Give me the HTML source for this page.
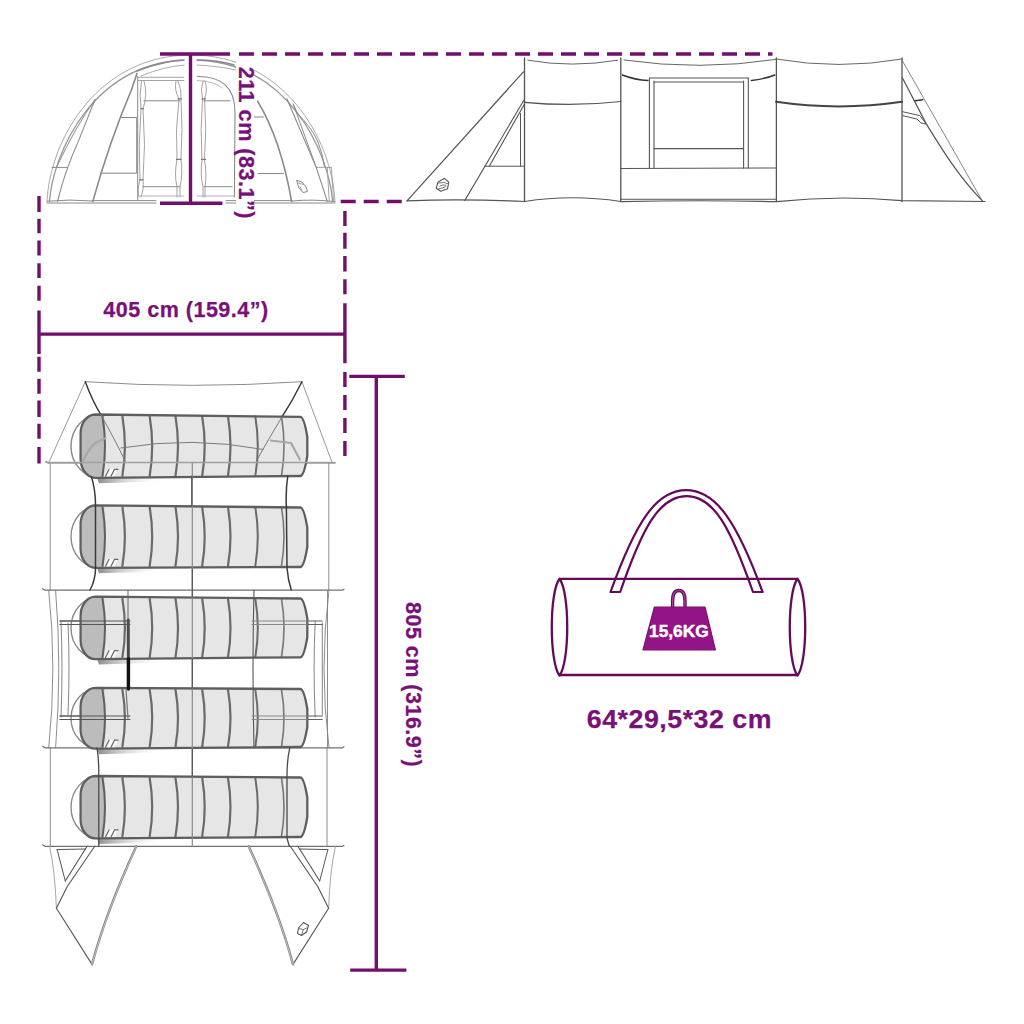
<!DOCTYPE html>
<html><head><meta charset="utf-8">
<style>
html,body{margin:0;padding:0;background:#fff;}
body{width:1024px;height:1024px;overflow:hidden;}
svg{display:block;}
text{font-family:"Liberation Sans",sans-serif;font-weight:bold;}
</style></head>
<body>
<svg width="1024" height="1024" viewBox="0 0 1024 1024">
<rect width="1024" height="1024" fill="#fff"/>
<g fill="none" stroke-linecap="round" stroke-linejoin="round"><path d="M47,201.4 C50.2,137.2 99.6,55 191,55 C282.4,55 331.8,137.2 335,201.4" stroke="#a0a0a0" stroke-width="0.9"/>
<path d="M49.4,201.4 C53.1,154.6 92.2,60 191,60 C289.8,60 328.9,154.6 332.6,201.4" stroke="#999" stroke-width="1.3"/>
<path d="M137,71 Q165,60 186,60" stroke="#8a8a8a" stroke-width="1.6"/>
<path d="M196,60 Q218,60 234,65" stroke="#8a8a8a" stroke-width="1.6"/>
<path d="M141,76 Q165,66 186,65" stroke="#a0a0a0" stroke-width="0.9"/>
<path d="M196,65 Q220,66 240,71" stroke="#a0a0a0" stroke-width="0.9"/>
<path d="M57,166.2 Q76,126 95.1,99.4" stroke="#8a8a8a" stroke-width="1"/>
<path d="M57.6,201.4 C62,182 70,160 78.7,140.4 L95.1,99.4" stroke="#8a8a8a" stroke-width="1.1"/>
<path d="M52,167.4 L67,167.4" stroke="#8a8a8a" stroke-width="1"/>
<path d="M92.8,201.4 Q110,140 131.4,90 L137,73.4" stroke="#888" stroke-width="1.6"/>
<path d="M120.9,117.5 L136.7,117.5 L136.7,173.2 L101,173.2" stroke="#888" stroke-width="1"/>
<path d="M137.7,76.5 L137.7,200" stroke="#8a8a8a" stroke-width="1"/>
<path d="M137.7,77.3 L184,77.3 M137.7,80.5 L184,80.5" stroke="#9a9a9a" stroke-width="0.9"/>
<path d="M141.5,81 Q139,95 141,108.7 Q138,145 140,179.8 Q137,190 139,197 M144,81 Q148,95 143,108.7 Q146,145 143,179.8 Q144,190 141,197" stroke="#999" stroke-width="0.9"/>
<path d="M141,108.7 L143.5,108.7 M139.5,179.8 L143,179.8" stroke="#777" stroke-width="1.3"/>
<path d="M176,81 Q174,90 179,98.9 Q175,130 177,159.4 Q174,175 177,186.6 L177,197 M178,81 Q182,90 181,98.9 Q183,130 181,159.4 Q183,175 180,186.6 L180,197" stroke="#999" stroke-width="0.9"/>
<path d="M178,98.9 L181.5,98.9 M176.5,159.4 L181,159.4" stroke="#777" stroke-width="1.3"/>
<path d="M144,100.8 L180,100.8 M143,186.7 L180,186.7" stroke="#8a8a8a" stroke-width="1"/>
<path d="M140,196 L184,196" stroke="#aaa" stroke-width="0.9"/>
<path d="M47,201.2 Q70,199 93,201 M93,200.6 L156,200.6 M47,203 L156,203" stroke="#8a8a8a" stroke-width="1"/>
<path d="M226,200.6 L292,200.6 M292,201 Q312,199 335,201.6 M226,203 L335,203" stroke="#8a8a8a" stroke-width="1"/>
<path d="M197,76.5 Q235,76 235,112 L234.4,197" stroke="#8a8a8a" stroke-width="1.1"/>
<path d="M197,80.5 Q215,81 222,88" stroke="#aaa" stroke-width="0.8"/>
<path d="M203,81 Q200,90 202.5,98.9 Q200,130 202,159.4 Q200,175 203,186.6 L203,197 M205,81 Q208,90 204.5,98.9 Q207,130 204.5,159.4 Q207,175 205,186.6 L205,197" stroke="#999" stroke-width="0.9"/>
<path d="M202,98.9 L205.5,98.9 M201.5,159.4 L205.5,159.4" stroke="#777" stroke-width="1.3"/>
<path d="M204,100.8 L230,100.8 M204,186.7 L232,186.7" stroke="#8a8a8a" stroke-width="1"/>
<path d="M197,196 L234,196" stroke="#aaa" stroke-width="0.9"/>
<path d="M257.6,101.1 Q281,140 291.6,201.4" stroke="#888" stroke-width="1.6"/>
<path d="M253.5,117 L263.4,117 M258.2,173.5 L283.4,173.5" stroke="#888" stroke-width="1"/>
<path d="M286.9,98.8 L316.2,167.4 L327.3,201.4" stroke="#8a8a8a" stroke-width="1.1"/>
<path d="M293.3,104.1 L316.2,167.4" stroke="#8a8a8a" stroke-width="1"/>
<path d="M293.3,104.1 L297.4,113.4 Q312,128 318,142 Q323,155 324.4,166.2" stroke="#8a8a8a" stroke-width="1"/>
<path d="M316.2,167.4 L331.4,167.4 M327.3,167.4 L329.2,201.4 M331.4,167.4 L333.6,201.4" stroke="#9a9a9a" stroke-width="0.9"/>
<path d="M297,180.5 L302,182 L306,187 L307.5,191.5 L303,192.5 L299,188 Z" stroke="#888" stroke-width="1"/>
<path d="M298,183 L303.5,184.5 M300,186.5 L302,191" stroke="#999" stroke-width="0.9"/></g>
<g fill="none" stroke-linecap="round" stroke-linejoin="round"><path d="M407,200.8 L523.4,71.9" stroke="#555" stroke-width="1.2"/>
<path d="M464.7,200.6 L524,100 M489.3,166.2 L524.5,104" stroke="#555" stroke-width="1.1"/>
<path d="M520.5,113.4 L520.5,166.2 M484.5,166.2 L524.5,166.2" stroke="#555" stroke-width="1"/>
<path d="M524.5,58 L524.5,201.6" stroke="#555" stroke-width="1.3"/>
<path d="M620.8,58 L620.8,201.6" stroke="#555" stroke-width="1.3"/>
<path d="M776.4,58 L776.4,201.6" stroke="#555" stroke-width="1.3"/>
<path d="M902,58 L902,201.6" stroke="#555" stroke-width="1.3"/>
<path d="M527.8,60.2 Q572,68 617.7,60.2 M624,60 Q700,71 776,59.4 M776,59 Q839,70 902,59" stroke="#666" stroke-width="1"/>
<path d="M524.4,102.3 Q572,107 620.8,101.5" stroke="#555" stroke-width="1.2"/>
<path d="M776,101.8 Q839,111 902,101.8" stroke="#444" stroke-width="2"/>
<path d="M407,200.8 Q463,198.5 524.5,201.5 Q572,194 620.8,201.5" stroke="#555" stroke-width="1.2"/>
<path d="M620.8,199.2 L776.4,199.2 M620.8,201.6 Q700,200 776.4,201.6 Q839,195 902,200.6 L985,201.5" stroke="#555" stroke-width="1.1"/>
<path d="M622.3,75 Q635,80 648,80.5 M751.4,80.5 Q765,79 774.8,75" stroke="#333" stroke-width="1.4"/>
<path d="M649.4,78 L649.4,168 M654,81 L654,168 M743.6,81 L743.6,168 M748.3,78 L748.3,168" stroke="#555" stroke-width="1.1"/>
<path d="M649.4,78 L748.3,78 M654,82 L743.6,82" stroke="#555" stroke-width="1"/>
<path d="M654,148.6 L743.6,148.6" stroke="#555" stroke-width="1.1"/>
<path d="M620.8,168.5 L776.4,168" stroke="#555" stroke-width="1.1"/>
<path d="M902,60.2 L982.2,200.8" stroke="#777" stroke-width="0.9"/>
<path d="M902.5,78 L926,123.4 C940,146 958,176 982.2,200.6" stroke="#555" stroke-width="1.2"/>
<path d="M915,100.8 L922.8,99.7" stroke="#333" stroke-width="1.5"/>
<path d="M902.5,111.7 L919.7,115.6 L926,123.4 M902.5,115.6 L917,119 L921,123 L926,124" stroke="#555" stroke-width="1"/>
<path d="M444.5,178.3 L448.8,182.2 L447.5,188.8 L440.7,191.3 L436.3,188.2 L437.9,182.2 Z" stroke="#555" stroke-width="1.1"/>
<path d="M438.5,183 Q444,181.5 448,183.5 M440,186 Q443,184.5 445.5,185 M438.5,189 Q443,188 446,186.5" stroke="#666" stroke-width="0.9"/></g>
<defs><linearGradient id="shd" x1="0" x2="1" y1="0" y2="0"><stop offset="0" stop-color="#8a8a8a"/><stop offset="1" stop-color="#fff" stop-opacity="0"/></linearGradient></defs>
<g fill="none" stroke-linecap="round" stroke-linejoin="round"><path d="M85.3,381.7 Q192,389 301.9,381.7" stroke="#8c8c8c" stroke-width="1"/>
<path d="M85.3,381.7 L48.6,463 M301.9,381.7 L332.3,463" stroke="#8c8c8c" stroke-width="0.9"/>
<path d="M46,461.5 L48.6,463 L335,463" stroke="#777" stroke-width="1.1"/>
<path d="M42.5,588.7 L45,590.2 L342.5,590.2 L344,589.2" stroke="#707070" stroke-width="1.2"/>
<path d="M42.5,746.3 L45,747.8 L342.5,747.8 L344,746.8" stroke="#707070" stroke-width="1.2"/>
<path d="M42.5,844.8 L45,846.3 L342.5,846.3 L344,845.3" stroke="#707070" stroke-width="1.2"/>
<path d="M50.2,463 L50.2,590 M328.8,463 L328.8,590 M50.3,747.8 L50.3,846.3 M327,747.8 L327,846.3" stroke="#808080" stroke-width="0.9"/>
<path d="M48.75,590.2 Q57,668 48.75,747.8 M55.6,590.2 Q62,668 55.6,747.8" stroke="#808080" stroke-width="0.9"/>
<path d="M327.5,590.2 L327.5,747.8 M329,590.2 Q319,668 329,747.8" stroke="#808080" stroke-width="0.9"/>
<path d="M61,621 Q63,668 61,717 M68,623 Q70,668 68,715" stroke="#777" stroke-width="0.9"/>
<path d="M315.2,621 Q313,668 315.2,717 M322.3,623 L322.3,715" stroke="#777" stroke-width="0.9"/>
<path d="M60,621 L130,621 M60,624.5 L130,624.5 M60,716 L130,716 M60,719.5 L130,719.5" stroke="#606060" stroke-width="1"/>
<path d="M252,621 L322.3,621 M252,624.5 L322.3,624.5 M252,716 L322.3,716 M252,719.5 L322.3,719.5" stroke="#606060" stroke-width="1"/>
<path d="M85.3,381.7 Q92,400 101,415" stroke="#333" stroke-width="1.4"/>
<path d="M301.9,381.7 Q293,400 281.6,417.5" stroke="#333" stroke-width="1.4"/>
<path d="M97,477.8 L165,477.8 L165,481.3 L99,483.3 Z" fill="url(#shd)" stroke="none"/>
<path d="M99,414.8 A28,31.350000000000005 0 0 0 71,446.15 A28,31.350000000000005 0 0 0 99,477.5" fill="none" stroke="#8a8a8a" stroke-width="1.4"/>
<path d="M95.5,414.5 L300.3,416.9 Q304,416.9 307.3,436.9 L307.3,456 Q304,476 300.3,476 L95.5,477.8 C86,477.8 80.6,467.8 80.6,458.8 L80.6,433.5 C80.6,424.5 86,414.5 95.5,414.5 Z" fill="#e6e6e6" stroke="none"/>
<path d="M95.5,415.5 L104,415.5 Q107.5,446.15 103.5,476.8 L95.5,476.8 C86,476.8 81.6,467.8 81.6,458.8 L81.6,433.5 C81.6,424.5 86,415.5 95.5,415.5 Z" fill="#bcbcbc" stroke="none"/>
<path d="M102.5,416.5 Q107.5,446.15 102.5,475.8" fill="none" stroke="#606060" stroke-width="2.0"/>
<path d="M122.4,416.5 Q127.4,446.15 122.4,475.8" fill="none" stroke="#6a6a6a" stroke-width="2.2"/>
<path d="M149.7,416.5 Q154.7,446.15 149.7,475.8" fill="none" stroke="#6a6a6a" stroke-width="2.2"/>
<path d="M175.5,416.5 Q180.5,446.15 175.5,475.8" fill="none" stroke="#6a6a6a" stroke-width="2.2"/>
<path d="M202.2,416.5 Q207.2,446.15 202.2,475.8" fill="none" stroke="#6a6a6a" stroke-width="2.2"/>
<path d="M228,416.5 Q233,446.15 228,475.8" fill="none" stroke="#6a6a6a" stroke-width="2.2"/>
<path d="M255.3,416.5 Q260.3,446.15 255.3,475.8" fill="none" stroke="#6a6a6a" stroke-width="2.0"/>
<path d="M281.5,416.5 Q286.5,446.15 281.5,475.8" fill="none" stroke="#777" stroke-width="1.6"/>
<path d="M95.5,414.5 L300.3,416.9 Q304,416.9 307.3,436.9 L307.3,456 Q304,476 300.3,476 L95.5,477.8 C86,477.8 80.6,467.8 80.6,458.8 L80.6,433.5 C80.6,424.5 86,414.5 95.5,414.5 Z" fill="none" stroke="#5e5e5e" stroke-width="2.3"/>
<path d="M104,476.3 L107.5,468.8 L118,468.8 L114.5,476.3 Z" fill="#fafafa" stroke="none"/>
<path d="M105.5,476.3 L109,469.3 M111,476.3 L114.5,469.3 M114.5,469.3 L118,469.3" stroke="#666" stroke-width="1.2"/>
<path d="M97,567.8 L165,567.8 L165,571.3 L99,573.3 Z" fill="url(#shd)" stroke="none"/>
<path d="M99,505.6 A28,30.94999999999997 0 0 0 71,536.55 A28,30.94999999999997 0 0 0 99,567.5" fill="none" stroke="#8a8a8a" stroke-width="1.4"/>
<path d="M95.5,505.3 L300.3,507.5 Q304,507.5 307.3,527.5 L307.3,547 Q304,567 300.3,567 L95.5,567.8 C86,567.8 80.6,557.8 80.6,548.8 L80.6,524.3 C80.6,515.3 86,505.3 95.5,505.3 Z" fill="#e6e6e6" stroke="none"/>
<path d="M95.5,506.3 L104,506.3 Q107.5,536.55 103.5,566.8 L95.5,566.8 C86,566.8 81.6,557.8 81.6,548.8 L81.6,524.3 C81.6,515.3 86,506.3 95.5,506.3 Z" fill="#bcbcbc" stroke="none"/>
<path d="M102.5,507.3 Q107.5,536.55 102.5,565.8" fill="none" stroke="#606060" stroke-width="2.0"/>
<path d="M122.4,507.3 Q127.4,536.55 122.4,565.8" fill="none" stroke="#6a6a6a" stroke-width="2.2"/>
<path d="M149.7,507.3 Q154.7,536.55 149.7,565.8" fill="none" stroke="#6a6a6a" stroke-width="2.2"/>
<path d="M175.5,507.3 Q180.5,536.55 175.5,565.8" fill="none" stroke="#6a6a6a" stroke-width="2.2"/>
<path d="M202.2,507.3 Q207.2,536.55 202.2,565.8" fill="none" stroke="#6a6a6a" stroke-width="2.2"/>
<path d="M228,507.3 Q233,536.55 228,565.8" fill="none" stroke="#6a6a6a" stroke-width="2.2"/>
<path d="M255.3,507.3 Q260.3,536.55 255.3,565.8" fill="none" stroke="#6a6a6a" stroke-width="2.0"/>
<path d="M281.5,507.3 Q286.5,536.55 281.5,565.8" fill="none" stroke="#777" stroke-width="1.6"/>
<path d="M95.5,505.3 L300.3,507.5 Q304,507.5 307.3,527.5 L307.3,547 Q304,567 300.3,567 L95.5,567.8 C86,567.8 80.6,557.8 80.6,548.8 L80.6,524.3 C80.6,515.3 86,505.3 95.5,505.3 Z" fill="none" stroke="#5e5e5e" stroke-width="2.3"/>
<path d="M104,566.3 L107.5,558.8 L118,558.8 L114.5,566.3 Z" fill="#fafafa" stroke="none"/>
<path d="M105.5,566.3 L109,559.3 M111,566.3 L114.5,559.3 M114.5,559.3 L118,559.3" stroke="#666" stroke-width="1.2"/>
<path d="M97,659.1 L165,659.1 L165,662.6 L99,664.6 Z" fill="url(#shd)" stroke="none"/>
<path d="M99,597.0 A28,30.899999999999988 0 0 0 71,627.9000000000001 A28,30.899999999999988 0 0 0 99,658.8000000000001" fill="none" stroke="#8a8a8a" stroke-width="1.4"/>
<path d="M95.5,596.7 L300.3,598.5 Q304,598.5 307.3,618.5 L307.3,637.3 Q304,657.3 300.3,657.3 L95.5,659.1 C86,659.1 80.6,649.1 80.6,640.1 L80.6,615.7 C80.6,606.7 86,596.7 95.5,596.7 Z" fill="#e6e6e6" stroke="none"/>
<path d="M95.5,597.7 L104,597.7 Q107.5,627.9000000000001 103.5,658.1 L95.5,658.1 C86,658.1 81.6,649.1 81.6,640.1 L81.6,615.7 C81.6,606.7 86,597.7 95.5,597.7 Z" fill="#bcbcbc" stroke="none"/>
<path d="M102.5,598.7 Q107.5,627.9000000000001 102.5,657.1" fill="none" stroke="#606060" stroke-width="2.0"/>
<path d="M122.4,598.7 Q127.4,627.9000000000001 122.4,657.1" fill="none" stroke="#6a6a6a" stroke-width="2.2"/>
<path d="M149.7,598.7 Q154.7,627.9000000000001 149.7,657.1" fill="none" stroke="#6a6a6a" stroke-width="2.2"/>
<path d="M175.5,598.7 Q180.5,627.9000000000001 175.5,657.1" fill="none" stroke="#6a6a6a" stroke-width="2.2"/>
<path d="M202.2,598.7 Q207.2,627.9000000000001 202.2,657.1" fill="none" stroke="#6a6a6a" stroke-width="2.2"/>
<path d="M228,598.7 Q233,627.9000000000001 228,657.1" fill="none" stroke="#6a6a6a" stroke-width="2.2"/>
<path d="M255.3,598.7 Q260.3,627.9000000000001 255.3,657.1" fill="none" stroke="#6a6a6a" stroke-width="2.0"/>
<path d="M281.5,598.7 Q286.5,627.9000000000001 281.5,657.1" fill="none" stroke="#777" stroke-width="1.6"/>
<path d="M95.5,596.7 L300.3,598.5 Q304,598.5 307.3,618.5 L307.3,637.3 Q304,657.3 300.3,657.3 L95.5,659.1 C86,659.1 80.6,649.1 80.6,640.1 L80.6,615.7 C80.6,606.7 86,596.7 95.5,596.7 Z" fill="none" stroke="#5e5e5e" stroke-width="2.3"/>
<path d="M104,657.6 L107.5,650.1 L118,650.1 L114.5,657.6 Z" fill="#fafafa" stroke="none"/>
<path d="M105.5,657.6 L109,650.6 M111,657.6 L114.5,650.6 M114.5,650.6 L118,650.6" stroke="#666" stroke-width="1.2"/>
<path d="M97,748.7 L165,748.7 L165,752.2 L99,754.2 Z" fill="url(#shd)" stroke="none"/>
<path d="M99,688.0999999999999 A28,30.150000000000045 0 0 0 71,718.25 A28,30.150000000000045 0 0 0 99,748.4000000000001" fill="none" stroke="#8a8a8a" stroke-width="1.4"/>
<path d="M95.5,687.8 L300.3,689 Q304,689 307.3,709 L307.3,727 Q304,747 300.3,747 L95.5,748.7 C86,748.7 80.6,738.7 80.6,729.7 L80.6,706.8 C80.6,697.8 86,687.8 95.5,687.8 Z" fill="#e6e6e6" stroke="none"/>
<path d="M95.5,688.8 L104,688.8 Q107.5,718.25 103.5,747.7 L95.5,747.7 C86,747.7 81.6,738.7 81.6,729.7 L81.6,706.8 C81.6,697.8 86,688.8 95.5,688.8 Z" fill="#bcbcbc" stroke="none"/>
<path d="M102.5,689.8 Q107.5,718.25 102.5,746.7" fill="none" stroke="#606060" stroke-width="2.0"/>
<path d="M122.4,689.8 Q127.4,718.25 122.4,746.7" fill="none" stroke="#6a6a6a" stroke-width="2.2"/>
<path d="M149.7,689.8 Q154.7,718.25 149.7,746.7" fill="none" stroke="#6a6a6a" stroke-width="2.2"/>
<path d="M175.5,689.8 Q180.5,718.25 175.5,746.7" fill="none" stroke="#6a6a6a" stroke-width="2.2"/>
<path d="M202.2,689.8 Q207.2,718.25 202.2,746.7" fill="none" stroke="#6a6a6a" stroke-width="2.2"/>
<path d="M228,689.8 Q233,718.25 228,746.7" fill="none" stroke="#6a6a6a" stroke-width="2.2"/>
<path d="M255.3,689.8 Q260.3,718.25 255.3,746.7" fill="none" stroke="#6a6a6a" stroke-width="2.0"/>
<path d="M281.5,689.8 Q286.5,718.25 281.5,746.7" fill="none" stroke="#777" stroke-width="1.6"/>
<path d="M95.5,687.8 L300.3,689 Q304,689 307.3,709 L307.3,727 Q304,747 300.3,747 L95.5,748.7 C86,748.7 80.6,738.7 80.6,729.7 L80.6,706.8 C80.6,697.8 86,687.8 95.5,687.8 Z" fill="none" stroke="#5e5e5e" stroke-width="2.3"/>
<path d="M104,747.2 L107.5,739.7 L118,739.7 L114.5,747.2 Z" fill="#fafafa" stroke="none"/>
<path d="M105.5,747.2 L109,740.2 M111,747.2 L114.5,740.2 M114.5,740.2 L118,740.2" stroke="#666" stroke-width="1.2"/>
<path d="M97,838.4 L165,838.4 L165,841.9 L99,843.9 Z" fill="url(#shd)" stroke="none"/>
<path d="M99,776.3 A28,30.899999999999988 0 0 0 71,807.2 A28,30.899999999999988 0 0 0 99,838.1" fill="none" stroke="#8a8a8a" stroke-width="1.4"/>
<path d="M95.5,776 L300.3,777.5 Q304,777.5 307.3,797.5 L307.3,817 Q304,837 300.3,837 L95.5,838.4 C86,838.4 80.6,828.4 80.6,819.4 L80.6,795 C80.6,786 86,776 95.5,776 Z" fill="#e6e6e6" stroke="none"/>
<path d="M95.5,777 L104,777 Q107.5,807.2 103.5,837.4 L95.5,837.4 C86,837.4 81.6,828.4 81.6,819.4 L81.6,795 C81.6,786 86,777 95.5,777 Z" fill="#bcbcbc" stroke="none"/>
<path d="M102.5,778 Q107.5,807.2 102.5,836.4" fill="none" stroke="#606060" stroke-width="2.0"/>
<path d="M122.4,778 Q127.4,807.2 122.4,836.4" fill="none" stroke="#6a6a6a" stroke-width="2.2"/>
<path d="M149.7,778 Q154.7,807.2 149.7,836.4" fill="none" stroke="#6a6a6a" stroke-width="2.2"/>
<path d="M175.5,778 Q180.5,807.2 175.5,836.4" fill="none" stroke="#6a6a6a" stroke-width="2.2"/>
<path d="M202.2,778 Q207.2,807.2 202.2,836.4" fill="none" stroke="#6a6a6a" stroke-width="2.2"/>
<path d="M228,778 Q233,807.2 228,836.4" fill="none" stroke="#6a6a6a" stroke-width="2.2"/>
<path d="M255.3,778 Q260.3,807.2 255.3,836.4" fill="none" stroke="#6a6a6a" stroke-width="2.0"/>
<path d="M281.5,778 Q286.5,807.2 281.5,836.4" fill="none" stroke="#777" stroke-width="1.6"/>
<path d="M95.5,776 L300.3,777.5 Q304,777.5 307.3,797.5 L307.3,817 Q304,837 300.3,837 L95.5,838.4 C86,838.4 80.6,828.4 80.6,819.4 L80.6,795 C80.6,786 86,776 95.5,776 Z" fill="none" stroke="#5e5e5e" stroke-width="2.3"/>
<path d="M104,836.9 L107.5,829.4 L118,829.4 L114.5,836.9 Z" fill="#fafafa" stroke="none"/>
<path d="M105.5,836.9 L109,829.9 M111,836.9 L114.5,829.9 M114.5,829.9 L118,829.9" stroke="#666" stroke-width="1.2"/>
<path d="M101,415 Q115,440 125,460.6" stroke="#7a7a7a" stroke-width="1"/>
<path d="M281.6,417.5 Q268,440 256.6,460.6" stroke="#7a7a7a" stroke-width="1"/>
<path d="M120.8,448 Q192,436 263,449.4" stroke="#7a7a7a" stroke-width="1"/>
<path d="M82.7,461 Q90,447 95.4,443 L105.5,438" stroke="#a8a8a8" stroke-width="2.2"/>
<path d="M270.6,440.5 L291,443 L299.8,459.6" stroke="#a8a8a8" stroke-width="2.2"/>
<path d="M46,462.5 L335,462.5" stroke="#a0a0a0" stroke-width="1.6"/>
<path d="M192.3,463 L192.3,846.3" stroke="#8a8a8a" stroke-width="1.2"/>
<path d="M191.7,476 L191.7,506 M192.3,569 L192.3,597 M192.3,659 L192.3,688 M192.3,749 L192.3,776" stroke="#555" stroke-width="1.2"/>
<path d="M91.5,477 Q95.5,490 95.5,505 L95.5,568 Q95.5,580 90,590" stroke="#3a3a3a" stroke-width="1.5"/>
<path d="M287.8,476 Q285.5,490 286.4,507.8 L287,568 Q288,580 291.2,589.8" stroke="#3a3a3a" stroke-width="1.5"/>
<path d="M128,590 L128,620" stroke="#666" stroke-width="1"/>
<path d="M128.2,620 L128.4,659" stroke="#4a4a4a" stroke-width="3"/>
<path d="M128.4,659 L128.4,689" stroke="#111" stroke-width="3.4"/>
<path d="M126,689 L128,718" stroke="#777" stroke-width="1.2"/>
<path d="M254,590 Q252,668 254,747.8" stroke="#555" stroke-width="1.1"/>
<path d="M60,621 L130,621 M60,624.5 L130,624.5 M60,716 L130,716 M60,719.5 L130,719.5" stroke="#555" stroke-width="1"/>
<path d="M130,621 L252,621 M130,624.5 L252,624.5 M130,716 L252,716 M130,719.5 L252,719.5" stroke="#9a9a9a" stroke-width="0.9" opacity="0"/>
<path d="M252,621 L307,621 M252,624.5 L307,624.5 M252,716 L307,716 M252,719.5 L307,719.5" stroke="#8a8a8a" stroke-width="1"/>
<path d="M97,747.8 Q99,760 98.75,776 L98.75,838 Q99,842 98.75,846.3" stroke="#4a4a4a" stroke-width="1.3"/>
<path d="M289.75,747.8 Q287,760 287,776 L287,838 Q288,842 289.4,846.3" stroke="#4a4a4a" stroke-width="1.3"/>
<g><path d="M49.6,846.5 Q55,870 56.4,908.3" stroke="#9a9a9a" stroke-width="0.9"/><path d="M56.4,908.3 L92,964.4" stroke="#555" stroke-width="1.1"/><path d="M92,964.4 Q106,912 136.3,846.3" stroke="#858585" stroke-width="2.4"/><path d="M92,964.4 Q106,912 136.3,846.3" stroke="#e8e8e8" stroke-width="0.6"/><path d="M56.4,908.3 L67.3,886.5 L94.7,846.3 M65.3,881 L87.1,846.3" stroke="#555" stroke-width="1.1"/><path d="M57.1,849.6 L65.3,881 M57.1,849.6 L85.5,849" stroke="#555" stroke-width="1"/></g>
<g transform="matrix(-1,0,0,1,385,0)"><path d="M49.6,846.5 Q55,870 56.4,908.3" stroke="#9a9a9a" stroke-width="0.9"/><path d="M56.4,908.3 L92,964.4" stroke="#555" stroke-width="1.1"/><path d="M92,964.4 Q106,912 136.3,846.3" stroke="#858585" stroke-width="2.4"/><path d="M92,964.4 Q106,912 136.3,846.3" stroke="#e8e8e8" stroke-width="0.6"/><path d="M56.4,908.3 L67.3,886.5 L94.7,846.3 M65.3,881 L87.1,846.3" stroke="#555" stroke-width="1.1"/><path d="M57.1,849.6 L65.3,881 M57.1,849.6 L85.5,849" stroke="#555" stroke-width="1"/></g>
<path d="M303.5,922.5 L308.5,925.5 L306.5,932 L301.5,935.5 L297.5,933.5 L298.5,928 Z" stroke="#555" stroke-width="1.1" fill="none"/>
<path d="M298.5,928.5 L303.5,929.5 L306.5,928 M303.5,929.5 L301.5,935" stroke="#666" stroke-width="0.9" fill="none"/></g>

<g fill="#fff">
  <rect x="184.5" y="57" width="12" height="144"/>
  <rect x="236.2" y="62" width="17.8" height="162"/>
  <rect x="157" y="198" width="68" height="10"/>
</g>
<g stroke="#730e6c" stroke-width="3.4" fill="none">
  <line x1="160" y1="54" x2="230" y2="54"/>
  <line x1="239" y1="54" x2="772.5" y2="54" stroke-dasharray="15 8"/>
  <line x1="190.5" y1="54" x2="190.5" y2="203.3"/>
  <line x1="160" y1="203.3" x2="222.4" y2="203.3"/>
  <line x1="340.7" y1="201.5" x2="402" y2="201.5" stroke-dasharray="15 8"/>
  <path d="M39 196V211.9M39 218.7V233.2M39 240.6V255.6M39 263.3V278M39 285.7V300.7M39 310.5V354M39 356.8V371.8M39 378.7V393.7M39 400.6V417M39 423.8V438.8M39 447V463.4"/>
  <path d="M344.9 211V226M344.9 232.8V248.7M344.9 256V271.6M344.9 279.3V294.3M344.9 303.2V363.2M344.9 372V387M344.9 395V410M344.9 418V433M344.9 441V456"/>
  <line x1="39" y1="334.1" x2="344.9" y2="334.1"/>
  <line x1="349.3" y1="376.4" x2="404.8" y2="376.4"/>
  <line x1="376.3" y1="376.4" x2="376.3" y2="970.1"/>
  <line x1="350.2" y1="970.1" x2="406.4" y2="970.1"/>
</g>
<g fill="#78107a" stroke="#78107a" stroke-width="0.25">
  <text x="103.3" y="317.2" font-size="21.5" letter-spacing="0.5" textLength="165.4" lengthAdjust="spacingAndGlyphs">405 cm (159.4”)</text>
  <text transform="translate(238.6,66.8) rotate(90)" font-size="21.5" letter-spacing="0.5" textLength="152.2" lengthAdjust="spacingAndGlyphs">211 cm (83.1”)</text>
  <text transform="translate(406.2,602) rotate(90)" font-size="21.5" letter-spacing="0.5" textLength="165.2" lengthAdjust="spacingAndGlyphs">805 cm (316.9”)</text>
  <text x="586.8" y="727.8" font-size="26.3" letter-spacing="0.5" textLength="185.2" lengthAdjust="spacingAndGlyphs">64*29,5*32 cm</text>
</g>


<g fill="none" stroke="#650a5a" stroke-width="2.3" stroke-linejoin="round">
  <path d="M559.5,578.8 L797.5,578.8 M559.5,675 L797.5,675"/>
  <path d="M559.5,578.8 C549.2,592 549.2,662 559.5,675.5 C569.8,662 569.8,592 559.5,578.8 Z"/>
  <path d="M797.5,578.8 C787.2,592 787.2,662 797.5,675.5 C807.8,662 807.8,592 797.5,578.8 Z"/>
  <path d="M610.5,592 C635.5,522.5 656,490.2 686.1,490.2 C716.2,490.2 737.2,522.5 762.6,592 L753,592 C730.5,528.1 714.2,496.2 686.6,496.2 C659,496.2 642.3,528.1 620.2,592 Z" stroke-width="2.2"/>
</g>
<g>
  <path d="M672.6,607 L672.6,601 Q672.6,590.5 678.8,590.5 Q685,590.5 685,601 L685,607" fill="none" stroke="#650a5a" stroke-width="3.4"/>
  <path d="M672.6,607 L672.6,601 Q672.6,590.5 678.8,590.5 Q685,590.5 685,601 L685,607" fill="none" stroke="#b24aaa" stroke-width="1.1"/>
  <path d="M654.4,607 L705,607 L715.4,650 L643,650 Z" fill="#921487" stroke="#7a1276" stroke-width="1.2" stroke-linejoin="round"/>
  <text x="649" y="637.2" font-size="17.3" fill="#fff" stroke="#fff" stroke-width="0.45" textLength="59.7" lengthAdjust="spacingAndGlyphs">15,6KG</text>
</g>

</svg>
</body></html>
